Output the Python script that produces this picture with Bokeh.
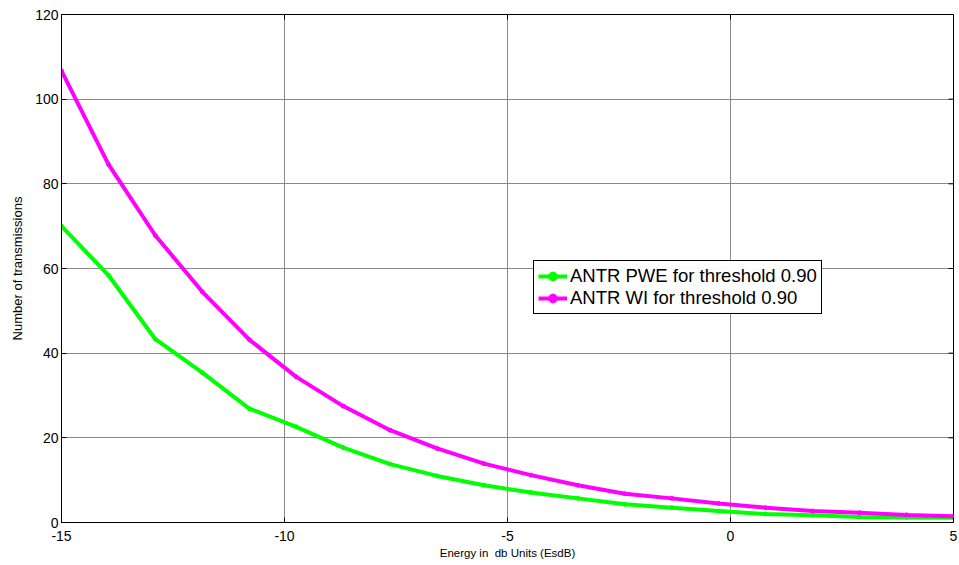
import numpy as np
from bokeh.plotting import figure
from bokeh.models import Range1d, FixedTicker, Legend, LegendItem
from bokeh.embed import file_html
from bokeh.resources import INLINE

energy_db = [-15.0, -13.947, -12.895, -11.842, -10.789, -9.737, -8.684, -7.632, -6.579, -5.526,
             -4.474, -3.421, -2.368, -1.316, -0.263, 0.789, 1.842, 2.895, 3.947, 5.0]
antr_pwe = [70.0, 58.4, 43.3, 35.4, 26.9, 22.6, 17.7, 13.8, 11.0, 8.8,
            7.1, 5.7, 4.3, 3.5, 2.7, 2.0, 1.7, 1.3, 1.2, 1.1]
antr_wi = [106.7, 84.6, 67.8, 54.5, 43.2, 34.4, 27.5, 21.8, 17.5, 13.9,
           11.2, 8.8, 6.8, 5.7, 4.5, 3.5, 2.7, 2.3, 1.8, 1.5]
x_ticks = [-15, -10, -5, 0, 5]
y_ticks = [0, 20, 40, 60, 80, 100, 120]
labels = ["ANTR PWE for threshold 0.90", "ANTR WI for threshold 0.90"]

FONT = "Liberation Sans"
X0, X1, Y0, Y1 = -15, 5, 0, 120

p = figure(width=959, height=565, output_backend="svg", toolbar_location=None,
           x_range=Range1d(X0, X1), y_range=Range1d(Y0, Y1),
           min_border_left=61, min_border_right=6, min_border_top=14, min_border_bottom=43)
p.background_fill_color = "white"
p.border_fill_color = "white"
p.outline_line_color = "black"
p.outline_line_width = 1

for ax in (p.xaxis[0], p.yaxis[0]):
    ax.major_tick_in = 5
    ax.major_tick_out = 0
    ax.minor_tick_line_color = None
    ax.axis_line_color = "black"
    ax.major_tick_line_color = "black"
    ax.major_label_text_font = FONT
    ax.major_label_text_font_size = "14px"
    ax.major_label_text_color = "black"
    ax.axis_label_text_font = FONT
    ax.axis_label_text_font_style = "normal"
    ax.axis_label_text_color = "black"

p.xaxis.ticker = FixedTicker(ticks=x_ticks)
p.yaxis.ticker = FixedTicker(ticks=y_ticks)
p.xaxis.major_label_overrides = {t: str(t) for t in x_ticks}
p.xaxis.axis_label = "Energy in\u00a0 db Units (EsdB)"
p.yaxis.axis_label = "Number of transmissions"
p.xaxis.axis_label_text_font_size = "11.5px"
p.yaxis.axis_label_text_font_size = "13px"
p.xaxis.major_label_standoff = 8
p.xaxis.axis_label_standoff = 3
p.yaxis.major_label_standoff = 3
p.yaxis.axis_label_standoff = 7

p.grid.grid_line_color = "#8a8a8a"
p.grid.grid_line_width = 1

# MATLAB-style box ticks on the top and right edges (5 px long)
tick_dy = 5 * (Y1 - Y0) / 508.0
tick_dx = 5 * (X1 - X0) / 892.0
p.segment(x0=x_ticks, y0=[Y1] * len(x_ticks), x1=x_ticks, y1=[Y1 - tick_dy] * len(x_ticks),
          line_color="black", line_width=1)
p.segment(x0=[X1] * len(y_ticks), y0=y_ticks, x1=[X1 - tick_dx] * len(y_ticks), y1=y_ticks,
          line_color="black", line_width=1)

l1 = p.line(energy_db, antr_pwe, line_color="#00ff00", line_width=4)
s1 = p.scatter(energy_db, antr_pwe, size=4, color="#00ff00")
l2 = p.line(energy_db, antr_wi, line_color="#ff00ff", line_width=4)
s2 = p.scatter(energy_db, antr_wi, size=4, color="#ff00ff")

legend = Legend(items=[LegendItem(label=labels[0], renderers=[l1, s1]),
                       LegendItem(label=labels[1], renderers=[l2, s2])],
                location=(472, 208))
legend.border_line_color = "black"
legend.border_line_alpha = 1.0
legend.border_line_width = 1
legend.label_text_font = FONT
legend.label_text_font_size = "18.5px"
legend.label_text_color = "black"
legend.label_standoff = 3
legend.glyph_width = 29
legend.glyph_height = 22
legend.padding = 4
legend.spacing = 0
legend.margin = 0
legend.label_height = 22
p.add_layout(legend, "center")

open("out.html", "w").write(file_html(p, INLINE))
